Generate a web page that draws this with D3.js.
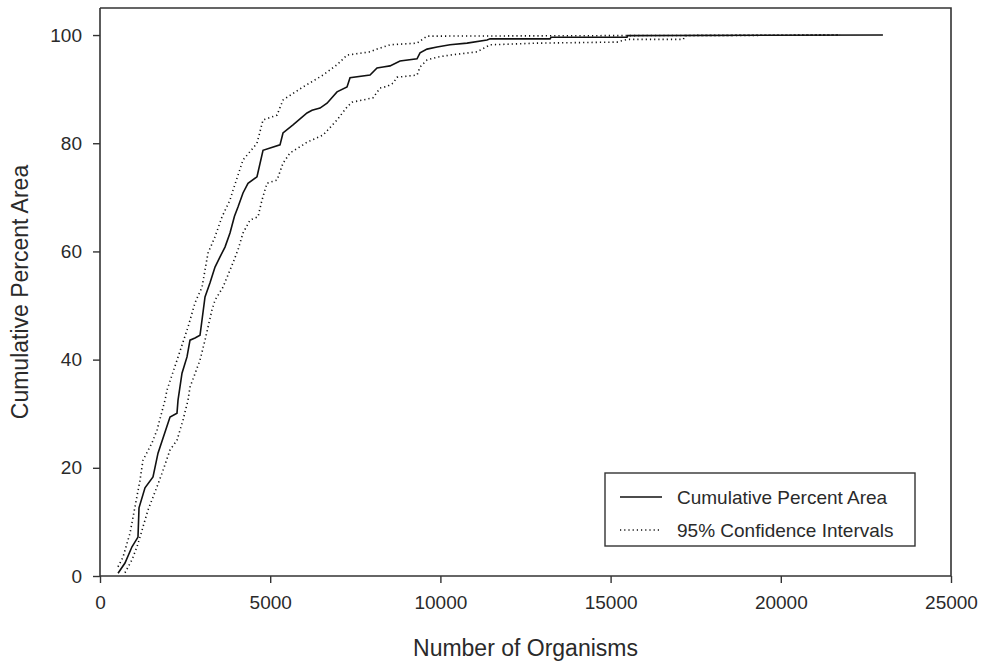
<!DOCTYPE html>
<html>
<head>
<meta charset="utf-8">
<script src="https://cdn.jsdelivr.net/npm/d3@7"></script>
<style>
  html, body { margin: 0; padding: 0; background: #fff; }
  svg text { font-family: "Liberation Sans", Arial, sans-serif; fill: #2a2a2a; }
</style>
</head>
<body>
<svg id="chart" width="984" height="665"></svg>
<script>
// ---- data ----
const xTicks = [0, 5000, 10000, 15000, 20000, 25000];
const yTicks = [0, 20, 40, 60, 80, 100];
const seriesNames = ["Cumulative Percent Area", "95% Confidence Intervals"];

// cumulative percent area: [number of organisms, percent]
const mainCurve = [
  [530,0.5],[734,2.4],[940,5.4],[1116,7.2],[1146,12.6],[1322,16.3],[1557,18.3],[1704,22.7],
  [2057,29.4],[2262,30.1],[2292,32.5],[2409,37.5],[2556,40.5],[2644,43.6],[2791,44],[2938,44.5],
  [3085,51.6],[3232,54.2],[3379,57.1],[3526,59],[3672,60.8],[3819,63.4],[3950,66.5],[4054,68.2],
  [4201,70.8],[4348,72.6],[4612,73.8],[4789,78.7],[5288,79.7],[5376,81.9],[5670,83.4],[6082,85.6],
  [6229,86.1],[6464,86.5],[6670,87.4],[6963,89.5],[7257,90.4],[7345,92.1],[7933,92.6],[8138,93.9],
  [8315,94.1],[8520,94.3],[8814,95.2],[9313,95.6],[9402,96.7],[9607,97.4],[9901,97.8],[10283,98.2],
  [10783,98.5],[11370,99.1],[11458,99.3],[13221,99.3],[13250,99.6],[15483,99.6],[15500,99.9],[23000,100]
];
// upper 95% confidence bound
const upperCI = [
  [529,1.7],[676,3.5],[881,7.9],[1175,17.7],[1263,21.4],[1528,24.6],[1675,27],[1910,32.5],
  [1969,34.4],[2262,39.9],[2585,46],[2791,50.5],[2997,53.4],[3173,59.7],[3379,62.7],[3584,66.4],
  [3819,69.5],[3907,71.3],[4201,76.9],[4612,80],[4789,84.3],[5200,85.2],[5376,88],[5964,90.4],
  [6552,92.6],[6963,94.5],[7257,96.3],[7933,96.9],[8138,97.4],[8520,98.2],[9313,98.5],[9607,99.8],
  [21742,100]
];
// lower 95% confidence bound
const lowerCI = [
  [734,0.6],[940,3],[1087,5.4],[1175,7.2],[1410,12.2],[1675,16.5],[1822,19],[2057,23.3],
  [2262,25.1],[2438,28.8],[2585,32.5],[2644,34.9],[2938,39.9],[3085,43.6],[3290,49.2],[3379,51],
  [3614,53.4],[3907,57.9],[4054,60.3],[4201,63.4],[4407,65.8],[4642,66.4],[4759,69.5],[4906,72.6],
  [5200,73.2],[5376,76.3],[5582,78.2],[5964,79.7],[6082,80.2],[6552,81.5],[6963,84.3],[7257,86.7],
  [7404,87.6],[7727,88],[8021,88.4],[8227,90.2],[8432,90.5],[8608,91.1],[8726,92.2],[9313,92.6],
  [9402,94.1],[9607,95.4],[9901,95.9],[10283,96.3],[11076,96.9],[11458,98.2],[12839,98.5],[15190,98.7],
  [15483,99.2],[17134,99.2],[17200,99.9],[21742,100]
];

// ---- layout ----
const svg = d3.select("#chart");
const mLeft = 100, mRight = 951, mTop = 8, mBottom = 576;
const axisColor = "#333";

const x = d3.scaleLinear().domain([0, 25000]).range([mLeft, mRight]);
const y = d3.scaleLinear().domain([0, 105]).range([mBottom, mTop]);

// frame (top and right)
svg.append("path")
  .attr("d", `M${mLeft},${mTop}H${mRight}V${mBottom}`)
  .attr("fill", "none").attr("stroke", axisColor).attr("stroke-width", 1.6);

// axes
const xAxis = svg.append("g").attr("transform", `translate(0,${mBottom})`)
  .call(d3.axisBottom(x).tickValues(xTicks).tickFormat(d3.format("d")).tickSize(7).tickPadding(13).tickSizeOuter(0));
const yAxis = svg.append("g").attr("transform", `translate(${mLeft},0)`)
  .call(d3.axisLeft(y).tickValues(yTicks).tickSize(7).tickPadding(11).tickSizeOuter(0));
[xAxis, yAxis].forEach(g => {
  g.select(".domain").attr("stroke", axisColor).attr("stroke-width", 1.6);
  g.selectAll(".tick line").attr("stroke", axisColor).attr("stroke-width", 1.4);
  g.selectAll(".tick text").attr("font-size", 19).attr("fill", "#2a2a2a")
    .style("font-family", "'Liberation Sans', Arial, sans-serif");
});
yAxis.select(".domain").attr("d", `M0,${mBottom}V${mTop}`);
xAxis.select(".domain").attr("d", `M${mLeft},0H${mRight}`);

// lines
const line = d3.line().x(d => x(d[0])).y(d => y(d[1]));
svg.append("path").datum(upperCI).attr("d", line)
  .attr("fill", "none").attr("stroke", "#111").attr("stroke-width", 1.6).attr("stroke-dasharray", "1.2,3");
svg.append("path").datum(lowerCI).attr("d", line)
  .attr("fill", "none").attr("stroke", "#111").attr("stroke-width", 1.6).attr("stroke-dasharray", "1.2,3");
svg.append("path").datum(mainCurve).attr("d", line)
  .attr("fill", "none").attr("stroke", "#111").attr("stroke-width", 1.6);

// axis titles
svg.append("text").attr("x", (mLeft + mRight) / 2).attr("y", 656)
  .attr("text-anchor", "middle").attr("font-size", 23).text("Number of Organisms");
svg.append("text").attr("transform", `translate(28,${(mTop + mBottom) / 2}) rotate(-90)`)
  .attr("text-anchor", "middle").attr("font-size", 23).text("Cumulative Percent Area");

// legend
const lg = svg.append("g");
lg.append("rect").attr("x", 605).attr("y", 473).attr("width", 310).attr("height", 73)
  .attr("fill", "#fff").attr("stroke", axisColor).attr("stroke-width", 1.4);
const legendRows = [
  { name: seriesNames[0], dash: null, yy: 497 },
  { name: seriesNames[1], dash: "1.2,3", yy: 530 }
];
legendRows.forEach(r => {
  lg.append("line").attr("x1", 620).attr("x2", 662).attr("y1", r.yy).attr("y2", r.yy)
    .attr("stroke", "#111").attr("stroke-width", 1.6).attr("stroke-dasharray", r.dash);
  lg.append("text").attr("x", 677).attr("y", r.yy).attr("dy", "0.35em")
    .attr("font-size", 19).text(r.name);
});
</script>
</body>
</html>
